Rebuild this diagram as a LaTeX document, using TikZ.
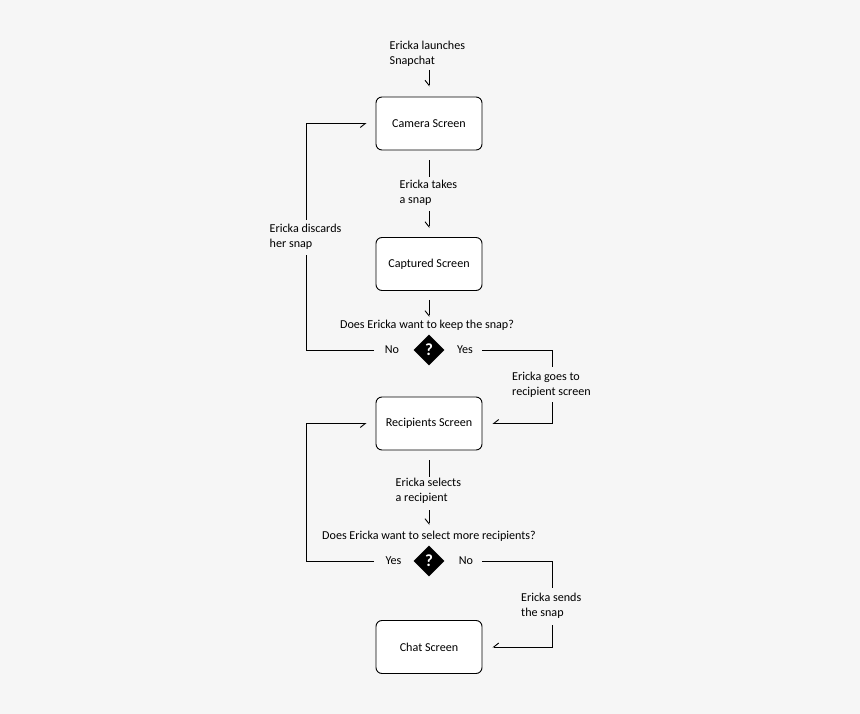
\documentclass[tikz,border=0pt]{standalone}
\usepackage{fontspec}
\setmainfont{Carlito}
\usetikzlibrary{arrows.meta,shapes.geometric}
\definecolor{bg}{RGB}{246,246,246}
\begin{document}
\begin{tikzpicture}[x=1pt,y=-1pt,
  every node/.style={font=\fontsize{12.1}{15}\selectfont},
  screen/.style={draw, line width=0.9pt, rounded corners=6pt, fill=white, minimum width=106pt, minimum height=53pt},
  decision/.style={diamond, fill=black, text=white, minimum width=31pt, minimum height=31pt, inner sep=0pt, font=\fontsize{17}{17}\selectfont\bfseries},
  lbl/.style={align=left, inner sep=0pt, anchor=west},
  conn/.style={line width=0.9pt},
  arr/.style={line width=0.9pt, -{Straight Barb[harpoon,swap,length=5pt,width=8pt]}}]
\fill[bg] (0,0) rectangle (860,714);
\useasboundingbox (0,0) rectangle (860,714);
% screens
\node[screen] (cam) at (429,123.5) {Camera Screen};
\node[screen] (cap) at (429,264) {Captured Screen};
\node[screen] (rec) at (429,423.5) {Recipients Screen};
\node[screen] (chat) at (429,647) {Chat Screen};
% decisions
\node[decision] (d1) at (429,350) {?};
\node[decision] (d2) at (429,561) {?};
% labels
\node[lbl] (launch) at (389.5,53.5) {Ericka launches\\Snapchat};
\node[lbl] (takes) at (399.5,193) {Ericka takes\\a snap};
\node[lbl] (discard) at (269.5,236.5) {Ericka discards\\her snap};
\node[lbl] (goes) at (512,385) {Ericka goes to\\recipient screen};
\node[lbl] (selects) at (395.5,491) {Ericka selects\\a recipient};
\node[lbl] (sends) at (521,606) {Ericka sends\\the snap};
\node (q1) at (427,325) {Does Ericka want to keep the snap?};
\node (q2) at (429,536) {Does Ericka want to select more recipients?};
\node (no1) at (392,350) {No};
\node (yes1) at (465,350) {Yes};
\node (yes2) at (393.5,561) {Yes};
\node (no2) at (466,561) {No};
% free ends
\coordinate (a0) at (429,70);
\coordinate (b1) at (429,177);
\coordinate (b2) at (429,211);
\coordinate (c1) at (429,317);
\coordinate (n1) at (374,350);
\coordinate (n2) at (306,255);
\coordinate (n3) at (306,220);
\coordinate (y1) at (482,350);
\coordinate (y2) at (552,367);
\coordinate (y3) at (552,402);
\coordinate (e1) at (429,477);
\coordinate (e2) at (429,510);
\coordinate (e3) at (429,525);
\coordinate (s1) at (374,561);
\coordinate (m1) at (482,561);
\coordinate (m2) at (552,588);
\coordinate (m3) at (552,625);
% connectors
\draw[arr, shorten >=10pt] (a0) -- (cam.north);
\draw[conn, shorten <=10pt] (cam.south) -- (b1);
\draw[arr, shorten >=9pt] (b2) -- (cap.north);
\draw[arr, shorten <=9pt] (cap.south) -- (c1);
\draw[conn] (n1) -| (n2);
\draw[arr, shorten >=9pt] (n3) |- (cam.west);
\draw[conn] (y1) -| (y2);
\draw[arr, shorten >=10pt] (y3) |- (rec.east);
\draw[conn, shorten <=10pt] (rec.south) -- (e1);
\draw[arr] (e2) -- (e3);
\draw[arr, shorten >=9pt] (s1) -| (306,423.5) -- (rec.west);
\draw[conn] (m1) -| (m2);
\draw[arr, shorten >=10pt] (m3) |- (chat.east);
\end{tikzpicture}
\end{document}
